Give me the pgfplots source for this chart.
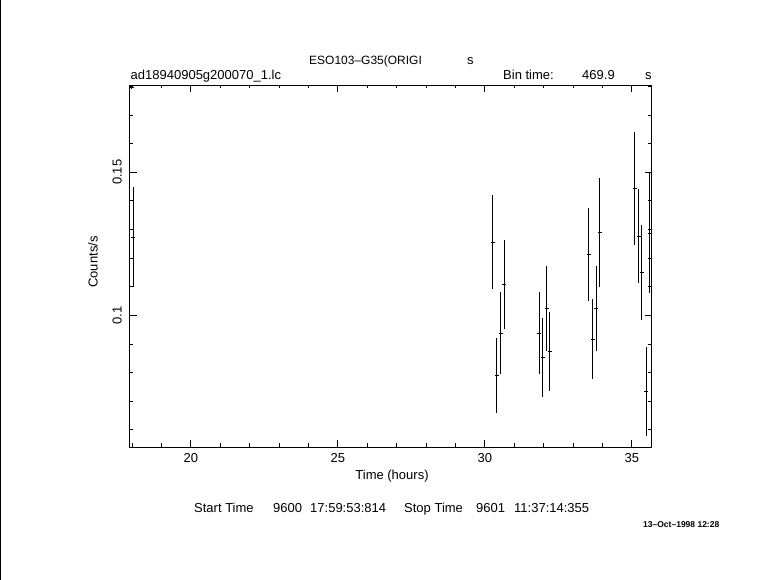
\documentclass[border=0pt]{standalone}
\usepackage{fontspec}
\setmainfont{Liberation Sans}
\usepackage{pgfplots}
\pgfplotsset{compat=1.18}

% light curve, bin time 469.9 s (x error = half bin)
\pgfplotstableread{
x      y       ex     ey
18.04  0.1273  0.065  0.0175
30.27  0.1255  0.065  0.0164
30.41  0.0790  0.065  0.0131
30.54  0.0937  0.065  0.0143
30.65  0.1108  0.065  0.0155
31.84  0.0937  0.065  0.0143
31.97  0.0853  0.065  0.0137
32.11  0.1024  0.065  0.0149
32.21  0.0874  0.065  0.0137
33.54  0.1213  0.065  0.0162
33.67  0.0916  0.065  0.0140
33.78  0.1024  0.065  0.0149
33.91  0.1290  0.065  0.0190
35.10  0.1444  0.065  0.0198
35.24  0.1277  0.065  0.0165
35.34  0.1150  0.065  0.0165
35.48  0.0734  0.065  0.0155
35.61  0.1288  0.065  0.0209
}\lcdata

\begin{document}
\begin{tikzpicture}[font=\fontsize{13}{15}\selectfont]
\path[use as bounding box] (-129.5pt,-133pt) rectangle (651.5pt,447pt);
\begin{axis}[
    at={(0pt,0pt)}, anchor=south west,
    scale only axis, width=522pt, height=362pt,
    xmin=17.915, xmax=35.67, ymin=0.054, ymax=0.1805,
    xtick={20,25,30,35}, minor xtick={18,...,35},
    ytick={0.1,0.15}, minor ytick={0.06,0.07,...,0.181},
    tick align=inside, major tick length=7pt, minor tick length=3.5pt,
    tick style={black, line width=0.8pt},
    axis line style={line width=0.8pt},
    /pgf/number format/assume math mode=true,
    xticklabel style={yshift=-3pt},
    yticklabel style={rotate=90, anchor=south, inner sep=7.5pt},
]
\addplot[draw=none, mark=none,
    error bars/.cd, x dir=both, x explicit, y dir=both, y explicit,
    error mark=none, error bar style={draw=black, solid, line width=0.8pt}]
    table[x=x, y=y, x error=ex, y error=ey] {\lcdata};
\end{axis}
% texts placed in picture pixel coordinates
\begin{scope}[x=1pt, y=-1pt, shift={(-129.5pt,447pt)}]
\draw[line width=1pt] (0.5,0) -- (0.5,580);
\draw[line width=0.6pt] (129.5,87.5) -- (133.5,87.5) (131.5,85.5) -- (131.5,89.5);
\node[anchor=base west, inner sep=0, font=\fontsize{12}{14}\selectfont] at (309,64.5) {ESO103--G35(ORIGI};
\node[anchor=base west, inner sep=0] at (467,64.5) {s};
\node[anchor=base west, inner sep=0] at (130.5,80) {ad18940905g200070\_1.lc};
\node[anchor=base west, inner sep=0] at (503,80) {Bin time:};
\node[anchor=base west, inner sep=0] at (582,80) {469.9};
\node[anchor=base west, inner sep=0] at (645,80) {s};
\node[rotate=90] at (93,262) {Counts/s};
\node at (392,476) {Time (hours)};
\node[anchor=base west, inner sep=0] at (194,513) {Start Time};
\node[anchor=base west, inner sep=0] at (273,513) {9600};
\node[anchor=base west, inner sep=0] at (310,513) {17:59:53:814};
\node[anchor=base west, inner sep=0] at (404,513) {Stop Time};
\node[anchor=base west, inner sep=0] at (476,513) {9601};
\node[anchor=base west, inner sep=0] at (514,513) {11:37:14:355};
\node[anchor=base west, inner sep=0, font=\fontsize{8.5}{10}\selectfont\bfseries] at (643,528) {13--Oct--1998 12:28};
\end{scope}
\end{tikzpicture}
\end{document}
